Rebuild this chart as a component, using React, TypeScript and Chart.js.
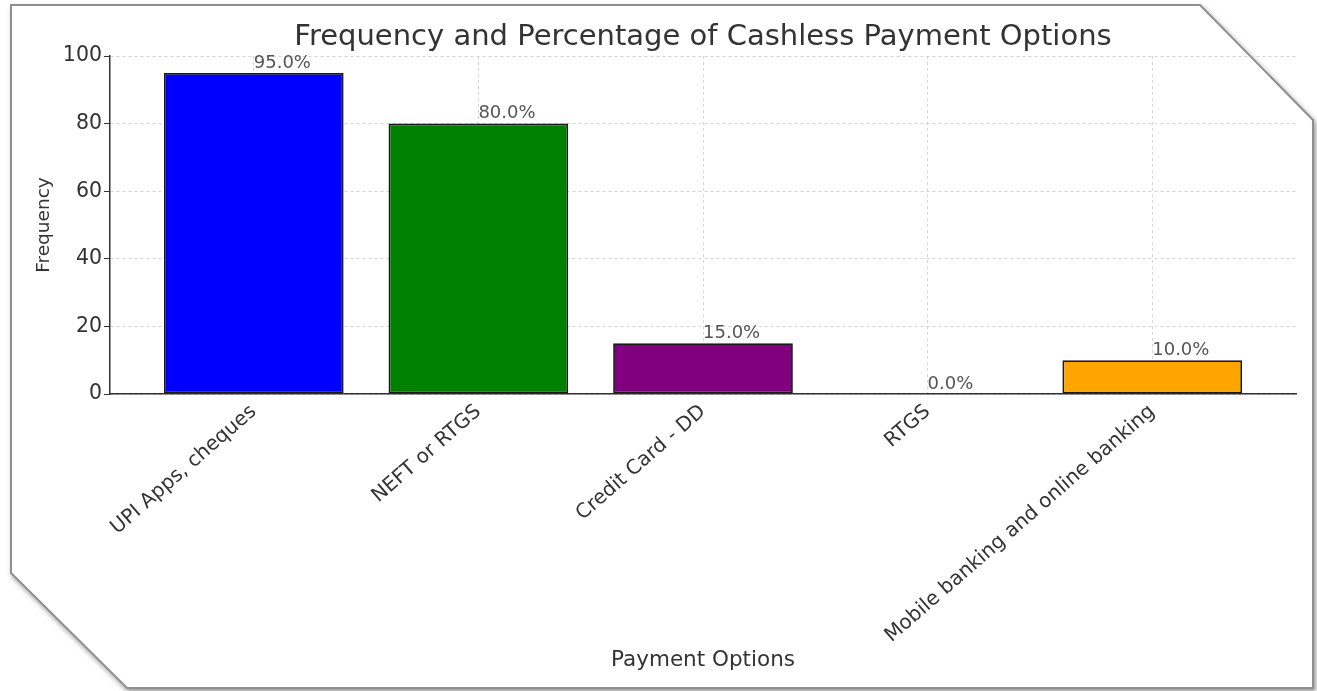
import React, { useEffect, useRef } from "react";
import { Chart, registerables } from "chart.js";

Chart.register(...registerables);

const categories = ["UPI Apps, cheques", "NEFT or RTGS", "Credit Card - DD", "RTGS", "Mobile banking and online banking"];
const frequencies = [95, 80, 15, 0, 10];
const percentages = [95.0, 80.0, 15.0, 0.0, 10.0];
const barColors = ["#0000ff", "#008000", "#800080", "#ff0000", "#ffa500"];
const yTicks = [0, 20, 40, 60, 80, 100];

const W = 1317;
const H = 691;
const FONT = "'DejaVu Sans', sans-serif";

export default function App() {
  const ref = useRef<HTMLCanvasElement | null>(null);

  useEffect(() => {
    if (!ref.current) return;
    const textPlugin = {
      id: "texts",
      afterDatasetsDraw(chart: any) {
        const ctx = chart.ctx;
        const meta = chart.getDatasetMeta(0);
        ctx.save();
        ctx.font = `18px ${FONT}`;
        ctx.fillStyle = "#555";
        ctx.textAlign = "left";
        ctx.textBaseline = "bottom";
        meta.data.forEach((bar: any, i: number) => {
          ctx.fillText(`${percentages[i].toFixed(1)}%`, bar.x, bar.y - 1);
        });
        ctx.restore();
      },
      afterDraw(chart: any) {
        const ctx = chart.ctx;
        const area = chart.chartArea;
        const cx = (area.left + area.right) / 2;
        ctx.save();
        ctx.fillStyle = "#333";
        ctx.textAlign = "center";
        ctx.textBaseline = "middle";
        ctx.font = `29px ${FONT}`;
        ctx.fillText("Frequency and Percentage of Cashless Payment Options", cx, 37);
        ctx.font = `21.5px ${FONT}`;
        ctx.fillText("Payment Options", cx, 660);
        ctx.translate(44, (area.top + area.bottom) / 2);
        ctx.rotate(-Math.PI / 2);
        ctx.font = `18.5px ${FONT}`;
        ctx.fillText("Frequency", 0, 0);
        ctx.restore();
      },
    };

    const gridColor = "rgba(185,185,185,0.6)";

    const chart = new Chart(ref.current, {
      type: "bar",
      data: {
        datasets: [
          {
            data: categories.map((_, i) => ({ x: i, y: frequencies[i] })) as any,
            backgroundColor: barColors,
            borderColor: "#1a1a1a",
            borderWidth: 1.8,
            borderSkipped: false,
            barPercentage: 0.8,
            categoryPercentage: 1.0,
          },
        ],
      },
      options: {
        animation: false,
        responsive: false,
        layout: { padding: { top: 56, right: 21, left: 0, bottom: 0 } },
        plugins: { legend: { display: false }, tooltip: { enabled: false }, title: { display: false } },
        scales: {
          x: {
            type: "linear",
            min: -0.64,
            max: 4.64,
            offset: false,
            z: 1,
            afterBuildTicks: (scale: any) => {
              scale.ticks = categories.map((_, i) => ({ value: i }));
            },
            afterFit: (scale: any) => {
              scale.height = H - 394;
            },
            ticks: {
              autoSkip: false,
              minRotation: 41,
              maxRotation: 41,
              padding: 6,
              color: "#333",
              font: { family: FONT, size: 20 },
              callback: (v: any) => categories[Math.round(Number(v))] ?? "",
            },
            grid: {
              offset: false,
              color: gridColor,
              lineWidth: 1,
              drawTicks: false,
            },
            border: { display: true, color: "#333", width: 1.5, dash: [3, 3] },
          },
          y: {
            min: 0,
            max: 100,
            z: 1,
            afterBuildTicks: (scale: any) => {
              scale.ticks = yTicks.map((v) => ({ value: v }));
            },
            afterFit: (scale: any) => {
              scale.width = 110;
            },
            ticks: {
              color: "#333",
              padding: 2,
              font: { family: FONT, size: 20.5 },
            },
            grid: {
              color: gridColor,
              lineWidth: 1,
              tickLength: 6,
              tickColor: "#333",
              tickBorderDash: [],
            },
            border: { display: true, color: "#333", width: 1.5, dash: [3, 3] },
          },
        },
      } as any,
      plugins: [textPlugin],
    });
    return () => chart.destroy();
  }, []);

  return (
    <div style={{ position: "fixed", left: 0, top: 0, width: W, height: H, background: "#fff" }}>
      <svg width={W} height={H} style={{ position: "absolute", left: 0, top: 0 }}>
        <defs>
          <filter id="sh" x="-5%" y="-5%" width="110%" height="110%">
            <feDropShadow dx="2" dy="3" stdDeviation="2.5" floodColor="#000" floodOpacity="0.4" />
          </filter>
        </defs>
        <polygon
          points="11,5 1200,5 1313,120 1313,688 127,688 11,573"
          fill="#fff"
          stroke="#8f8f8f"
          strokeWidth="2"
          filter="url(#sh)"
        />
      </svg>
      <canvas ref={ref} width={W} height={H} style={{ position: "absolute", left: 0, top: 0, width: W, height: H }} />
    </div>
  );
}
